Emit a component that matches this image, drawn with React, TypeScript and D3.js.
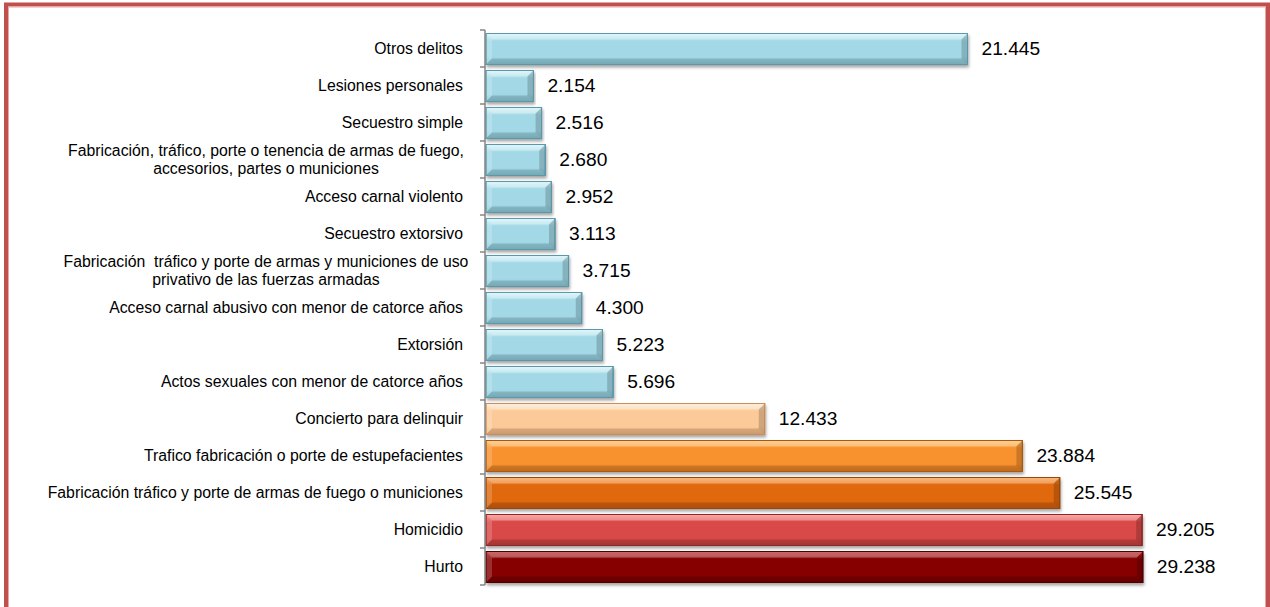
import { scaleBand, scaleLinear } from "d3";

// categories, top to bottom (multi-line labels use \n)
const categories = [
    "Otros delitos",
    "Lesiones personales",
    "Secuestro simple",
    "Fabricación, tráfico, porte o tenencia de armas de fuego,\naccesorios, partes o municiones",
    "Acceso carnal violento",
    "Secuestro extorsivo",
    "Fabricación  tráfico y porte de armas y municiones de uso\nprivativo de las fuerzas armadas",
    "Acceso carnal abusivo con menor de catorce años",
    "Extorsión",
    "Actos sexuales con menor de catorce años",
    "Concierto para delinquir",
    "Trafico fabricación o porte de estupefacientes",
    "Fabricación tráfico y porte de armas de fuego o municiones",
    "Homicidio",
    "Hurto",
];

const values = [21445, 2154, 2516, 2680, 2952, 3113, 3715, 4300, 5223, 5696, 12433, 23884, 25545, 29205, 29238];

const valueLabels = ["21.445", "2.154", "2.516", "2.680", "2.952", "3.113", "3.715", "4.300", "5.223", "5.696", "12.433", "23.884", "25.545", "29.205", "29.238"];

// palette per bar: [top, face, bottom, outline]
const palettes: Record<string, string[]> = {
    blue: ["#d2f2f9", "#a3d9e6", "#88c5d5", "#5a98aa"],
    peach: ["#ffe8cc", "#fcca98", "#f2b27a", "#c88f5c"],
    orange: ["#ffbc5e", "#f8922e", "#e07a1e", "#a85a14"],
    darkOrange: ["#f89638", "#e06810", "#cc5d0c", "#9a4608"],
    red: ["#f87c7a", "#d84846", "#c23c3a", "#8c2826"],
    maroon: ["#b82020", "#860404", "#760000", "#4e0000"],
};
const barPalette = ["blue", "blue", "blue", "blue", "blue", "blue", "blue", "blue", "blue", "blue", "peach", "orange", "darkOrange", "red", "maroon"];

const W = 1270;
const H = 607;
const axisX = 485;

export default function App() {
    const x = scaleLinear().domain([0, 30000]).range([axisX, axisX + 675]);
    const y = scaleBand<string>().domain(categories).range([30, 585]).paddingInner(0).paddingOuter(0);
    const bh = 31;
    const b = 6;

    return (
        <svg width={W} height={H} style={{ position: "absolute", left: 0, top: 0, fontFamily: "Arial, 'Liberation Sans', sans-serif" }}>
            <defs>
                {Object.entries(palettes).map(([k, c]) => (
                    <linearGradient key={k} id={`g-${k}`} x1="0" y1="0" x2="0" y2="1">
                        <stop offset="0" stopColor={c[0]} />
                        <stop offset="0.25" stopColor={c[1]} />
                        <stop offset="0.75" stopColor={c[1]} />
                        <stop offset="1" stopColor={c[2]} />
                    </linearGradient>
                ))}
                <filter id="shadow" x="-5%" y="-20%" width="110%" height="150%">
                    <feDropShadow dx="1" dy="2.5" stdDeviation="1.5" floodColor="#000" floodOpacity="0.35" />
                </filter>
            </defs>
            <rect x={0} y={0} width={W} height={H} fill="#fff" />
            <rect x={6} y={4.5} width={W - 8} height={H + 20} fill="none" stroke="#c0504d" strokeWidth={4} />
            <rect x={8.5} y={7} width={W - 13} height={H} fill="none" stroke="#eba5a3" strokeWidth={1} />

            {categories.map((c, i) => {
                const band = y(c)!;
                const top = band + 3.5;
                const x0 = axisX + 1;
                const x1 = x(values[i]);
                const w = x1 - x0;
                const pal = palettes[barPalette[i]];
                const cy = band + y.bandwidth() / 2;
                const lines = c.split("\n");
                return (
                    <g key={c}>
                        <g filter="url(#shadow)">
                            <rect x={x0} y={top} width={w} height={bh} fill={`url(#g-${barPalette[i]})`} stroke={pal[3]} strokeWidth={1} />
                        </g>
                        {/* bevel facets */}
                        <polygon points={`${x0},${top} ${x1},${top} ${x1 - b},${top + b} ${x0 + b},${top + b}`} fill="#fff" opacity={0.32} />
                        <polygon points={`${x0},${top} ${x0 + b},${top + b} ${x0 + b},${top + bh - b} ${x0},${top + bh}`} fill="#fff" opacity={0.18} />
                        <polygon points={`${x1},${top} ${x1},${top + bh} ${x1 - b},${top + bh - b} ${x1 - b},${top + b}`} fill="#000" opacity={0.18} />
                        <polygon points={`${x0},${top + bh} ${x0 + b},${top + bh - b} ${x1 - b},${top + bh - b} ${x1},${top + bh}`} fill="#000" opacity={0.14} />
                        <rect x={x0} y={top} width={w} height={bh} fill="none" stroke={pal[3]} strokeWidth={1} />
                        <text x={x1 + 14} y={cy} dy="0.36em" fontSize={19.2} fill="#000">
                            {valueLabels[i]}
                        </text>
                        {lines.length === 1 ? (
                            <text x={463} y={cy} dy="0.35em" textAnchor="end" fontSize={15.8} fill="#000">
                                {c}
                            </text>
                        ) : (
                            <text fontSize={15.8} fill="#000" textAnchor="middle" style={{ whiteSpace: "pre" }}>
                                {lines.map((l, k) => (
                                    <tspan key={k} x={266} y={cy + (k - (lines.length - 1) / 2) * 18} dy="0.35em">
                                        {l}
                                    </tspan>
                                ))}
                            </text>
                        )}
                    </g>
                );
            })}

            {/* category axis */}
            <line x1={axisX} x2={axisX} y1={y.range()[0]} y2={y.range()[1]} stroke="#868686" strokeWidth={1.5} />
            {[...categories.map((c) => y(c)!), y.range()[1]].map((t, i) => (
                <line key={i} x1={axisX - 5} x2={axisX} y1={t} y2={t} stroke="#868686" strokeWidth={1.5} />
            ))}
        </svg>
    );
}
